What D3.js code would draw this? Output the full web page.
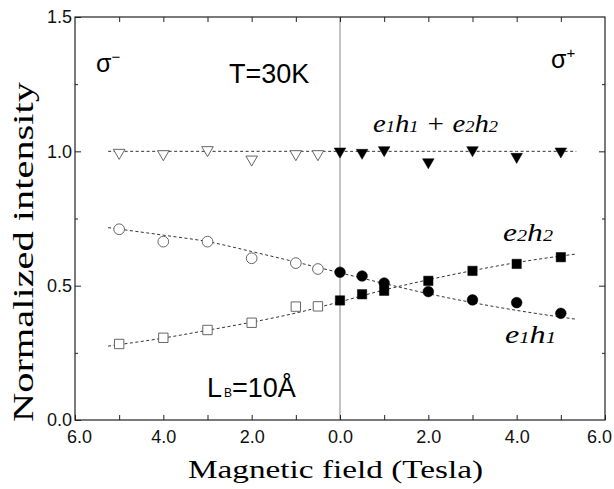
<!DOCTYPE html>
<html>
<head>
<meta charset="utf-8">
<script src="https://cdn.jsdelivr.net/npm/d3@7"></script>
<style>
  body { margin:0; background:#fff; }
  svg { display:block; }
  .tick text { font-family:"Liberation Sans", Arial, sans-serif; font-size:18px; fill:#111; }
  .domain { display:none; }
  .tick line { stroke:#222; stroke-width:1; }
</style>
</head>
<body>
<svg id="chart"></svg>
<script>
const W = 614, H = 489;

// measured points, sigma- (open) and sigma+ (filled)
const fieldMinus = [-5, -4, -3, -2, -1, -0.5];
const fieldPlus  = [0, 0.5, 1, 2, 3, 4, 5];

const totalMinus = [0.995, 0.99, 1.005, 0.97, 0.99, 0.99];
const totalPlus  = [1.0, 0.995, 1.005, 0.96, 1.005, 0.98, 1.0];
const e1h1Minus  = [0.71, 0.664, 0.664, 0.602, 0.584, 0.562];
const e1h1Plus   = [0.55, 0.536, 0.51, 0.478, 0.447, 0.437, 0.397];
const e2h2Minus  = [0.283, 0.306, 0.335, 0.362, 0.422, 0.423];
const e2h2Plus   = [0.445, 0.468, 0.481, 0.518, 0.555, 0.581, 0.606];

// dashed guide curves
const fitField = [-5.25, -4, -3, -2, -1, 0, 1, 2, 3, 4, 5.35];
const fitTotal = [1.0, 1.0, 1.0, 1.0, 1.0, 1.0, 1.0, 1.0, 1.0, 1.0, 1.0];
const fitE1h1  = [0.716, 0.688, 0.664, 0.627, 0.588, 0.548, 0.508, 0.47, 0.437, 0.408, 0.375];
const fitE2h2  = [0.275, 0.305, 0.334, 0.364, 0.398, 0.44, 0.484, 0.522, 0.556, 0.586, 0.618];

const xTicks = [-6, -5, -4, -3, -2, -1, 0, 1, 2, 3, 4, 5, 6];
const yMajor = [0, 0.5, 1.0, 1.5];
const yMinor = [0.25, 0.75, 1.25];

const M = {l:75, r:605, t:17, b:420};
const x = d3.scaleLinear().domain([-6, 6]).range([M.l, M.r]);
const y = d3.scaleLinear().domain([0, 1.5]).range([M.b, M.t]);

const svg = d3.select('#chart').attr('width', W).attr('height', H);

// zero field line
svg.append('line')
  .attr('x1', x(0)).attr('x2', x(0)).attr('y1', y(1.5)).attr('y2', y(0))
  .attr('stroke', '#999').attr('stroke-width', 1.2);

// axes, ticks inward
const xb = svg.append('g').attr('transform', `translate(0,${M.b})`)
  .call(d3.axisBottom(x).tickValues(xTicks).tickSize(-5).tickPadding(10)
    .tickFormat(d => d % 2 === 0 ? Math.abs(d).toFixed(1) : ''));
xb.selectAll('.tick text').attr('dx', d => d === -6 ? 4 : d === 6 ? -6 : 0);
svg.append('g').attr('transform', `translate(0,${M.t})`)
  .call(d3.axisTop(x).tickValues(xTicks.slice(1, -1)).tickSize(-5).tickFormat(''));
svg.append('g').attr('transform', `translate(${M.l},0)`)
  .call(d3.axisLeft(y).tickValues(yMajor).tickSize(-6).tickPadding(3).tickFormat(d3.format('.1f')));
svg.append('g').attr('transform', `translate(${M.l},0)`)
  .call(d3.axisLeft(y).tickValues(yMinor).tickSize(-3).tickFormat(''));
svg.append('g').attr('transform', `translate(${M.r},0)`)
  .call(d3.axisRight(y).tickValues(yMajor.slice(1, -1)).tickSize(-6).tickFormat(''));
svg.append('g').attr('transform', `translate(${M.r},0)`)
  .call(d3.axisRight(y).tickValues(yMinor).tickSize(-3).tickFormat(''));

svg.append('rect')
  .attr('x', M.l).attr('y', M.t).attr('width', M.r - M.l).attr('height', M.b - M.t)
  .attr('fill', 'none').attr('stroke', '#222').attr('stroke-width', 1.2);

// fit curves
const line = d3.line().x(d => x(d[0])).y(d => y(d[1])).curve(d3.curveMonotoneX);
[fitTotal, fitE1h1, fitE2h2].forEach(vals => {
  svg.append('path')
    .datum(fitField.map((f, i) => [f, vals[i]]))
    .attr('d', line)
    .attr('fill', 'none').attr('stroke', '#333').attr('stroke-width', 1)
    .attr('stroke-dasharray', '3,2.5');
});

// markers
const sym = {
  tri: d3.symbol().type(d3.symbolTriangle).size(58),
  circ: d3.symbol().type(d3.symbolCircle).size(90),
  sq: d3.symbol().type(d3.symbolSquare).size(88)
};
function points(fields, vals, shape, filled, rot) {
  svg.append('g').selectAll('path')
    .data(fields.map((f, i) => [f, vals[i]]))
    .join('path')
    .attr('d', sym[shape])
    .attr('transform', d => `translate(${x(d[0])},${y(d[1])})${rot ? ' rotate(180)' : ''}`)
    .attr('fill', filled ? '#000' : '#fff')
    .attr('stroke', filled ? '#000' : '#555')
    .attr('stroke-width', filled ? 0.5 : 0.9);
}
points(fieldMinus, totalMinus, 'tri', false, true);
points(fieldPlus, totalPlus, 'tri', true, true);
points(fieldMinus, e1h1Minus, 'circ', false);
points(fieldMinus, e2h2Minus, 'sq', false);
points(fieldPlus, e2h2Plus, 'sq', true);
points(fieldPlus, e1h1Plus, 'circ', true);

// annotations
const sans = '"Liberation Sans", Arial, sans-serif';
const serif = '"Liberation Serif", "Times New Roman", serif';

function sigma(px, py, sup) {
  const t = svg.append('text').attr('x', px).attr('y', py)
    .attr('font-family', sans).attr('font-size', 25).attr('fill', '#000');
  t.append('tspan').text('σ');
  t.append('tspan').attr('dy', -10).attr('font-size', 15).text(sup);
}
sigma(96, 72, '−');
sigma(551, 68, '+');

svg.append('text').attr('x', 229).attr('y', 83)
  .attr('font-family', sans).attr('font-size', 27).attr('fill', '#000').text('T=30K');

const lb = svg.append('text').attr('x', 207).attr('y', 397)
  .attr('font-family', sans).attr('font-size', 27).attr('fill', '#000');
lb.append('tspan').text('L');
lb.append('tspan').attr('font-size', 12).attr('dx', 2).text('B');
lb.append('tspan').text('=10Å');

function band(px, py, len, parts) {
  const t = svg.append('text').attr('x', px).attr('y', py)
    .attr('font-family', serif).attr('font-style', 'italic')
    .attr('font-size', 25).attr('fill', '#000')
    .attr('textLength', len).attr('lengthAdjust', 'spacingAndGlyphs');
  parts.forEach(p => {
    t.append('tspan').attr('font-size', p.sub ? 16 : 25).text(p.s);
  });
}
band(373, 132, 125, [{s:'e'},{s:'1',sub:1},{s:'h'},{s:'1',sub:1},{s:' + '},{s:'e'},{s:'2',sub:1},{s:'h'},{s:'2',sub:1}]);
band(503, 241, 50, [{s:'e'},{s:'2',sub:1},{s:'h'},{s:'2',sub:1}]);
band(505, 343, 51, [{s:'e'},{s:'1',sub:1},{s:'h'},{s:'1',sub:1}]);

// axis titles
svg.append('text').attr('x', 188).attr('y', 478)
  .attr('font-family', serif).attr('font-size', 25).attr('fill', '#000')
  .attr('textLength', 295).attr('lengthAdjust', 'spacingAndGlyphs')
  .text('Magnetic field (Tesla)');
svg.append('text').attr('transform', 'translate(33,422) rotate(-90)')
  .attr('font-family', serif).attr('font-size', 29).attr('fill', '#000')
  .attr('textLength', 340).attr('lengthAdjust', 'spacingAndGlyphs')
  .text('Normalized intensity');
</script>
</body>
</html>
